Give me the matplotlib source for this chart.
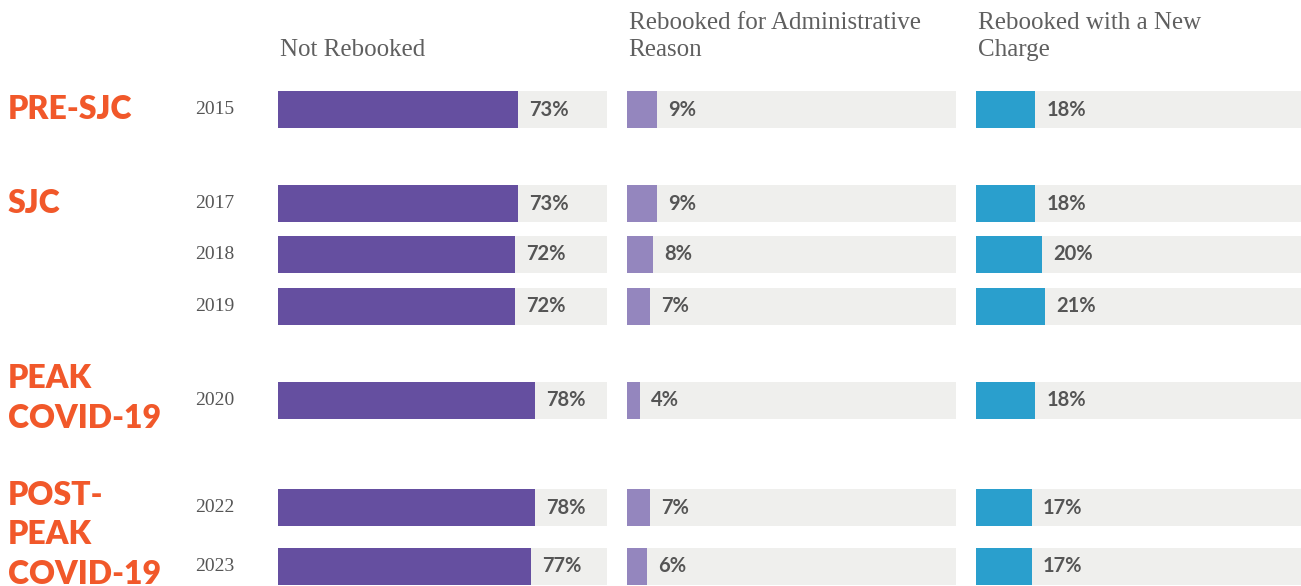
import numpy as np
import matplotlib.pyplot as plt

# data
years = ['2015', '2017', '2018', '2019', '2020', '2022', '2023']
not_rebooked = [73, 73, 72, 72, 78, 78, 77]
rebooked_admin = [9, 9, 8, 7, 4, 7, 6]
rebooked_charge = [18, 18, 20, 21, 18, 17, 17]
series_titles = ['Not Rebooked',
                 'Rebooked for Administrative\nReason',
                 'Rebooked with a New\nCharge']
groups = ['PRE-SJC', 'SJC', 'PEAK\nCOVID-19', 'POST-\nPEAK\nCOVID-19']
group_rows = [[0], [1, 2, 3], [4], [5, 6]]

# layout (pixels)
W, H = 1301, 586
row_y = [109.5, 203.5, 254.5, 306.5, 400.5, 507.5, 566.5]
panel_left = [278, 627, 976]
panel_w = 329
bar_h = 37

colors = ['#654FA0', '#9486BE', '#2A9FCD']
bg_color = '#EFEFED'
txt_color = '#555555'
orange = '#F1582A'

fig = plt.figure(figsize=(W / 100, H / 100), dpi=100)

# background axes in pixel units for the row/group labels
base = fig.add_axes([0, 0, 1, 1])
base.set_xlim(0, W)
base.set_ylim(H, 0)
base.axis('off')

for name, rows in zip(groups, group_rows):
    if '\n' in name:
        yc = np.mean([row_y[r] for r in rows]) - 2
    else:
        yc = row_y[rows[0]]  # single-line labels sit on the first row
    base.text(8, yc, name, ha='left', va='center', color=orange,
              fontsize=23, fontweight='heavy', family='Lato',
              linespacing=1.45)

for y, yr in zip(row_y, years):
    base.text(195, y, yr, ha='left', va='center', color=txt_color,
              fontsize=14, family='Liberation Serif')

for i, (vals, title) in enumerate(zip(
        [not_rebooked, rebooked_admin, rebooked_charge], series_titles)):
    ax = fig.add_axes([panel_left[i] / W, 0, panel_w / W, 1])
    ax.set_xlim(0, 100)
    ax.set_ylim(H, 0)
    ax.axis('off')
    ax.barh(row_y, [100] * len(row_y), height=bar_h, color=bg_color)
    ax.barh(row_y, vals, height=bar_h, color=colors[i])
    for y, v in zip(row_y, vals):
        ax.annotate(f'{v}%', (v, y), xytext=(8, 0), textcoords='offset points',
                    ha='left', va='center', color=txt_color, fontsize=14.5,
                    fontweight='bold', family='Lato')
    ax.text(0.005, 61, title, transform=ax.get_yaxis_transform(),
            ha='left', va='bottom', color='#5f5f5f', fontsize=18,
            family='Liberation Serif', linespacing=1.27)

fig.savefig('out.png', dpi=100)
